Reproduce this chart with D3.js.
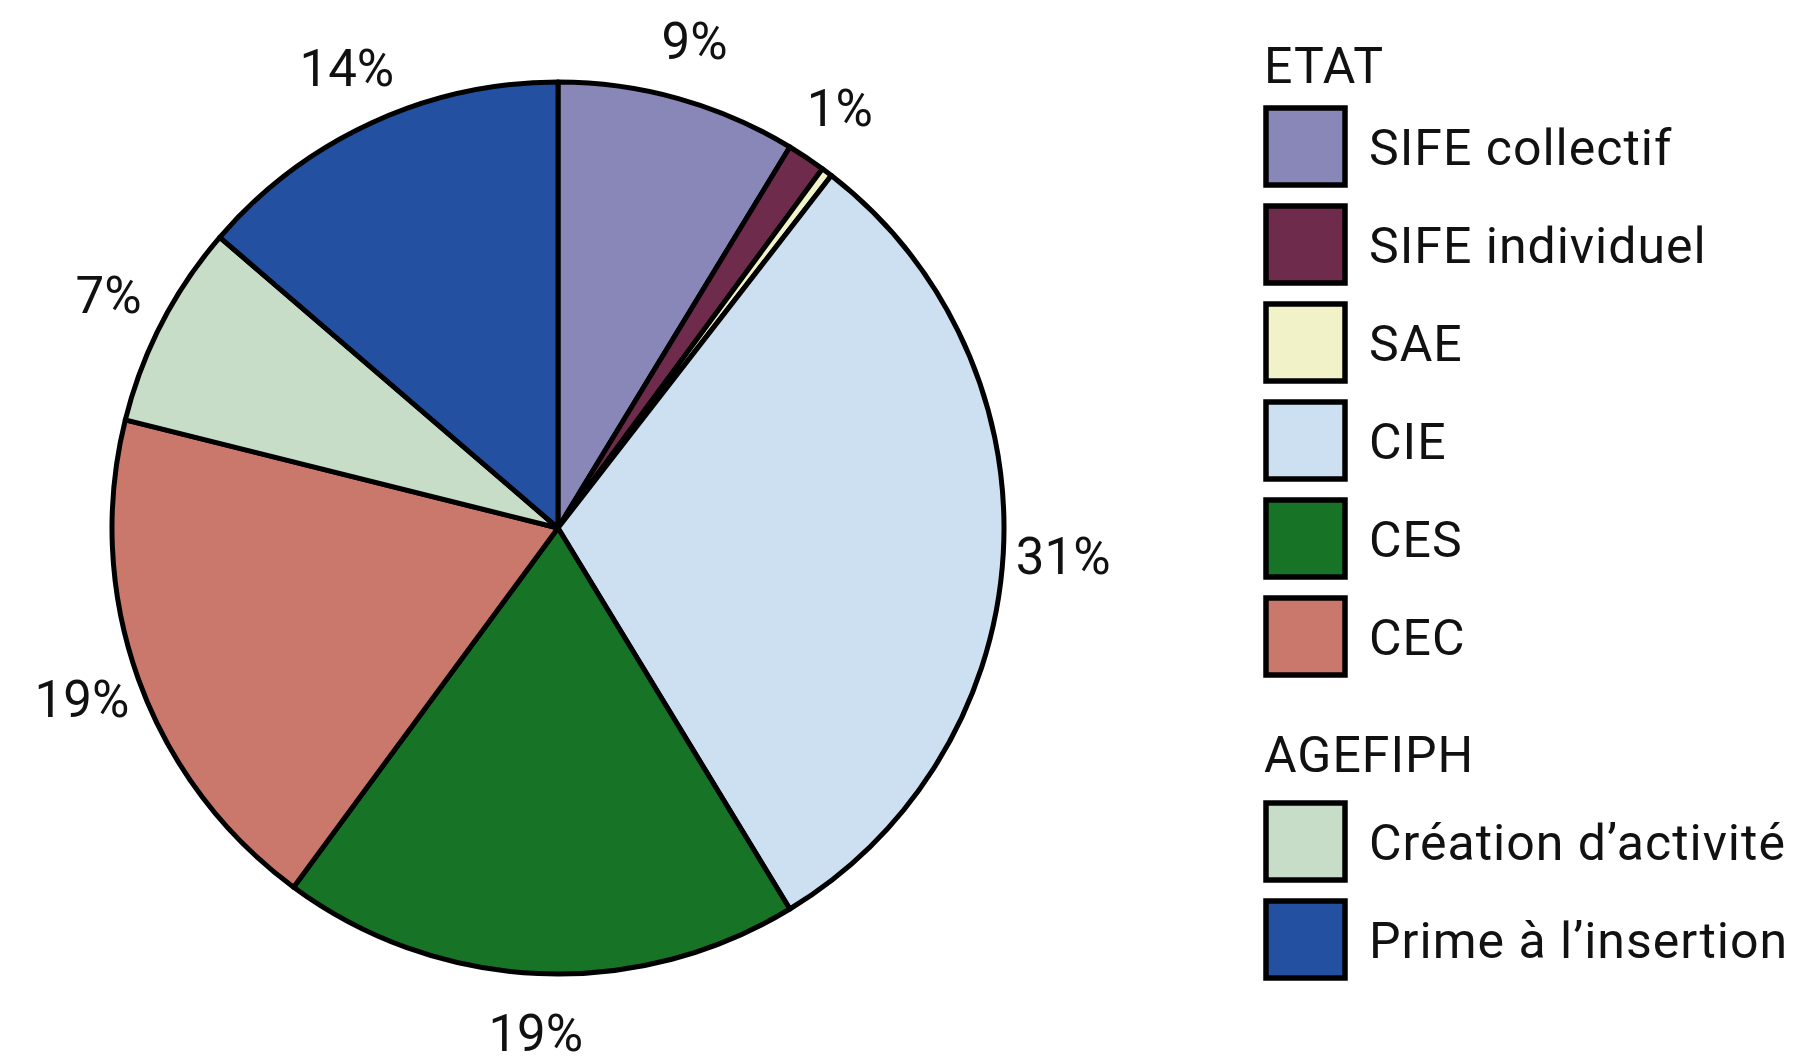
<!DOCTYPE html>
<html>
<head>
<meta charset="utf-8">
<script src="https://cdn.jsdelivr.net/npm/d3@7"></script>
<style>
  html, body { margin: 0; padding: 0; background: #ffffff; }
  svg { display: block; }
  text { font-family: Roboto, "DejaVu Sans", sans-serif; fill: #111111; }
</style>
</head>
<body>
<svg id="chart" width="1801" height="1060"></svg>
<script>
// ---- data ----
const categories = ["SIFE collectif", "SIFE individuel", "SAE", "CIE", "CES", "CEC", "Création d’activité", "Prime à l’insertion"];
const shares = [8.7, 1.4, 0.4, 30.8, 18.8, 18.8, 7.4, 13.7];
const sliceLabels = ["9%", "1%", "", "31%", "19%", "19%", "7%", "14%"];
const groupOf = ["ETAT", "ETAT", "ETAT", "ETAT", "ETAT", "ETAT", "AGEFIPH", "AGEFIPH"];
const groupTitles = ["ETAT", "AGEFIPH"];
const colors = ["#8987B8", "#6E2B4B", "#F2F2C8", "#CCE0F1", "#177427", "#CB786C", "#C7DDC7", "#2350A0"];

// ---- layout ----
const svg = d3.select("#chart");
const cx = 558, cy = 528, R = 446, labelR = 506;

const color = d3.scaleOrdinal().domain(categories).range(colors);
const pie = d3.pie().sort(null).value(d => d.value);
const arcs = pie(categories.map((c, i) => ({ name: c, value: shares[i], label: sliceLabels[i] })));
const arc = d3.arc().innerRadius(0).outerRadius(R);
const labelArc = d3.arc().innerRadius(labelR).outerRadius(labelR);

const gPie = svg.append("g").attr("transform", `translate(${cx},${cy})`);
gPie.selectAll("path.slice").data(arcs).join("path")
  .attr("class", "slice")
  .attr("d", arc)
  .attr("fill", d => color(d.data.name))
  .attr("stroke", "#000")
  .attr("stroke-width", 5)
  .attr("stroke-linejoin", "round");

gPie.selectAll("text.pct").data(arcs.filter(d => d.data.label)).join("text")
  .attr("class", "pct")
  .attr("transform", d => `translate(${labelArc.centroid(d)})`)
  .attr("text-anchor", "middle")
  .attr("dy", "0.35em")
  .style("font-size", "51px")
  .text(d => d.data.label);

// ---- legend ----
const legX = 1266, sw = 79, pitch = 98;
const groupTop = { "ETAT": 83, "AGEFIPH": 772 };   // header baselines
const firstItemTop = { "ETAT": 108, "AGEFIPH": 803 };
const gLeg = svg.append("g");

groupTitles.forEach(g => {
  gLeg.append("text")
    .attr("x", legX - 2)
    .attr("y", groupTop[g])
    .style("font-size", "50px")
    .style("letter-spacing", "1px")
    .text(g);
  const items = categories.filter((c, i) => groupOf[i] === g);
  const rows = gLeg.selectAll(null).data(items).join("g")
    .attr("transform", (d, i) => `translate(${legX},${firstItemTop[g] + i * pitch})`);
  rows.append("rect")
    .attr("width", sw).attr("height", sw - 2)
    .attr("fill", d => color(d))
    .attr("stroke", "#000")
    .attr("stroke-width", 5.5);
  rows.append("text")
    .attr("x", 103)
    .attr("y", (sw - 2) / 2)
    .attr("dy", "0.36em")
    .style("font-size", "50px")
    .style("letter-spacing", "1px")
    .text(d => d);
});
</script>
</body>
</html>
